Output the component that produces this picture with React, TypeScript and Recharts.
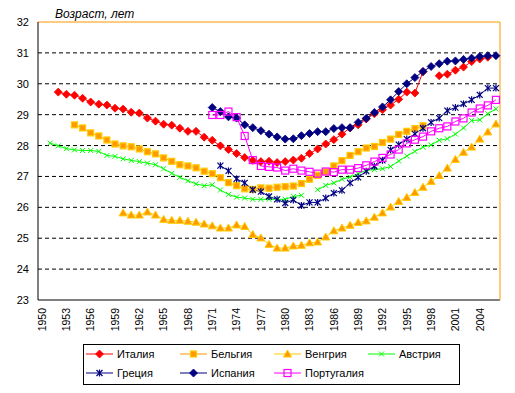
import React from 'react';
import { LineChart, Line, XAxis, YAxis, CartesianGrid, ReferenceLine } from 'recharts';

const years = [
  1950, 1951, 1952, 1953, 1954, 1955, 1956, 1957, 1958, 1959,
  1960, 1961, 1962, 1963, 1964, 1965, 1966, 1967, 1968, 1969,
  1970, 1971, 1972, 1973, 1974, 1975, 1976, 1977, 1978, 1979,
  1980, 1981, 1982, 1983, 1984, 1985, 1986, 1987, 1988, 1989,
  1990, 1991, 1992, 1993, 1994, 1995, 1996, 1997, 1998, 1999,
  2000, 2001, 2002, 2003, 2004, 2005, 2006,
];

const italyStart = 1952;
const italy = [
  29.73, 29.66, 29.63, 29.53, 29.41, 29.34, 29.31, 29.21, 29.18, 29.08,
  29.05, 28.89, 28.79, 28.69, 28.66, 28.56, 28.46, 28.46, 28.27, 28.17,
  27.99, 27.87, 27.74, 27.61, 27.52, 27.48, 27.49, 27.45, 27.48, 27.53,
  27.59, 27.74, 27.89, 28.05, 28.19, 28.37, 28.57, 28.67, 28.86, 29.03,
  29.16, 29.31, 29.50, 29.73, 29.70, 30.39, null, 30.26, 30.31, 30.44,
  30.54, 30.72, 30.80, 30.86,
];

const belgiumStart = 1954;
const belgium = [
  28.67, 28.57, 28.41, 28.31, 28.18, 28.05, 27.99, 27.96, 27.89, 27.80,
  27.73, 27.60, 27.49, 27.38, 27.34, 27.28, 27.17, 27.09, 26.96, 26.80,
  26.70, 26.60, 26.58, 26.63, 26.62, 26.65, 26.67, 26.69, 26.77, 26.91,
  27.04, 27.15, 27.34, 27.51, 27.68, 27.80, 27.92, 27.97, 28.10, 28.21,
  28.36, 28.46, 28.55, 28.64,
];

const hungaryStart = 1960;
const hungary = [
  25.82, 25.75, 25.75, 25.85, 25.75, 25.61, 25.58, 25.58, 25.55, 25.52,
  25.46, 25.40, 25.33, 25.33, 25.43, 25.38, 25.12, 25.01, 24.80, 24.68,
  24.68, 24.75, 24.77, 24.85, 24.88, 25.04, 25.24, 25.33, 25.42, 25.51,
  25.56, 25.68, 25.82, 26.01, 26.19, 26.32, 26.48, 26.65, 26.84, 27.03,
  27.27, 27.55, 27.78, 27.95, 28.21, 28.44, 28.70,
];

const austriaStart = 1951;
const austria = [
  28.08, 27.99, 27.90, 27.86, 27.84, 27.84, 27.81, 27.68, 27.65,
  27.57, 27.52, 27.48, 27.43, 27.38, 27.25, 27.10, 26.97, 26.86, 26.76,
  26.70, 26.73, 26.56, 26.42, 26.33, 26.30, 26.26, 26.26, 26.26, 26.26,
  26.26, 26.35, 26.39, null, 26.57, 26.71, 26.79, 26.91, 26.98, 27.09,
  27.20, 27.22, 27.25, 27.32, 27.50, 27.66, 27.81, 27.95, 28.02, 28.17,
  28.22, 28.37, 28.57, 28.81, 28.83, 29.03, 29.19,
];

const greeceStart = 1972;
const greece = [
  27.35, 27.18, 26.92, 26.79, 26.57, 26.51, 26.35, 26.26,
  26.14, 26.24, 26.06, 26.16, 26.16, 26.30, 26.46, 26.55, 26.79, 26.97,
  27.17, 27.33, 27.52, 27.86, 28.03, 28.21, 28.38, 28.56, 28.75, 28.89,
  29.13, 29.23, 29.35, 29.48, 29.64, 29.86, 29.86,
];

const spainStart = 1971;
const spain = [
  29.23, 29.10, 28.93, 28.89, 28.67, 28.58, 28.48, 28.37, 28.28,
  28.21, 28.22, 28.32, 28.39, 28.45, 28.45, 28.55, 28.58, 28.58, 28.75,
  28.88, 29.07, 29.25, 29.48, 29.75, 30.00, 30.20, 30.40, 30.56, 30.65,
  30.73, 30.74, 30.79, 30.83, 30.88, 30.91, 30.91,
];

const portugalStart = 1971;
const portugal = [
  28.99, 28.99, 29.10, 28.92, 28.31, 27.53, 27.34, 27.31, 27.29,
  27.19, 27.25, 27.19, 27.15, 27.09, 27.16, 27.14, 27.22, 27.22, 27.27,
  27.36, 27.48, 27.60, 27.71, 27.87, 28.07, 28.19, 28.29, 28.46, 28.56,
  28.62, 28.78, 28.88, 29.07, 29.20, 29.30, 29.48,
];

const yTicks = [23, 24, 25, 26, 27, 28, 29, 30, 31, 32];
const gridValues = [24, 25, 26, 27, 28, 29, 30, 31];

const names = ['Италия', 'Бельгия', 'Венгрия', 'Австрия', 'Греция', 'Испания', 'Португалия'];

const pick = (start: number, arr: (number | null)[], y: number) => {
  const i = y - start;
  if (i < 0 || i >= arr.length) return null;
  return arr[i];
};

const data = years.map((y) => ({
  year: String(y),
  italy: pick(italyStart, italy, y),
  belgium: pick(belgiumStart, belgium, y),
  hungary: pick(hungaryStart, hungary, y),
  austria: pick(austriaStart, austria, y),
  greece: pick(greeceStart, greece, y),
  spain: pick(spainStart, spain, y),
  portugal: pick(portugalStart, portugal, y),
}));

type Shape = 'diamond' | 'square' | 'triangle' | 'x' | 'star' | 'hollow';

const Marker = ({ shape, cx, cy, color, fill, stroke }: any) => {
  switch (shape) {
    case 'diamond':
      return <polygon points={`${cx},${cy - 4} ${cx + 4},${cy} ${cx},${cy + 4} ${cx - 4},${cy}`} fill={color} stroke={color} strokeWidth={0.8} />;
    case 'square':
      return <rect x={cx - 3} y={cy - 3} width={6} height={6} fill={fill} stroke={stroke} strokeWidth={1.2} />;
    case 'triangle':
      return <polygon points={`${cx},${cy - 4} ${cx + 4},${cy + 3} ${cx - 4},${cy + 3}`} fill={fill} stroke={stroke} strokeWidth={1} />;
    case 'x':
      return (
        <g stroke={color} strokeWidth={1}>
          <line x1={cx - 2.5} y1={cy - 2.5} x2={cx + 2.5} y2={cy + 2.5} />
          <line x1={cx - 2.5} y1={cy + 2.5} x2={cx + 2.5} y2={cy - 2.5} />
        </g>
      );
    case 'star':
      return (
        <g stroke={color} strokeWidth={1.2}>
          <line x1={cx - 3} y1={cy - 3} x2={cx + 3} y2={cy + 3} />
          <line x1={cx - 3} y1={cy + 3} x2={cx + 3} y2={cy - 3} />
          <line x1={cx} y1={cy - 3.5} x2={cx} y2={cy + 3.5} />
        </g>
      );
    case 'hollow':
      return <rect x={cx - 3.5} y={cy - 3.5} width={7} height={7} fill="none" stroke={color} strokeWidth={1.2} />;
    default:
      return null;
  }
};

const makeDot = (shape: Shape, color: string, fill?: string, stroke?: string) => (props: any) => {
  const { cx, cy, value, index } = props;
  if (cx == null || cy == null || value == null || (Array.isArray(value) && value[1] == null)) {
    return <g key={`e-${index}`} />;
  }
  return (
    <g key={`d-${index}`}>
      <Marker shape={shape} cx={cx} cy={cy} color={color} fill={fill} stroke={stroke} />
    </g>
  );
};

const series = [
  { key: 'italy', color: '#FF0000', shape: 'diamond' as Shape },
  { key: 'belgium', color: '#FF9900', shape: 'square' as Shape, fill: '#FF9900', stroke: '#FFCC00' },
  { key: 'hungary', color: '#FFCC00', shape: 'triangle' as Shape, fill: '#FF9900', stroke: '#FFCC00' },
  { key: 'austria', color: '#00FF00', shape: 'x' as Shape },
  { key: 'greece', color: '#000080', shape: 'star' as Shape },
  { key: 'spain', color: '#000080', shape: 'diamond' as Shape },
  { key: 'portugal', color: '#FF00FF', shape: 'hollow' as Shape },
];

const font = '"Liberation Sans", Arial, sans-serif';

const XTick = (props: any) => {
  const { x, y, payload } = props;
  return (
    <text
      x={x}
      y={y}
      transform={`rotate(-90, ${x}, ${y})`}
      textAnchor="end"
      dy="0.36em"
      fontSize={10.5}
      fontFamily={font}
      fill="#000"
    >
      {payload.value}
    </text>
  );
};

const YTick = (props: any) => {
  const { y, payload } = props;
  return (
    <text x={29} y={y} dy="0.36em" textAnchor="end" fontSize={11} fontFamily={font} fill="#000">
      {payload.value}
    </text>
  );
};

const legendCols = [86, 180, 274, 368];
const legendRows = [354, 373];

export default function App() {
  return (
    <div style={{ position: 'absolute', left: 0, top: 0, width: 515, height: 393, background: '#fff' }}>
      <LineChart
        width={515}
        height={393}
        data={data}
        margin={{ top: 22, right: 14, left: 0, bottom: 0 }}
      >
        <CartesianGrid
          vertical={false}
          horizontalValues={gridValues}
          stroke="#000"
          strokeDasharray="4 3"
        />
        <XAxis
          dataKey="year"
          scale="band"
          interval={2}
          height={93}
          tickLine={false}
          axisLine={{ stroke: '#000' }}
          tick={<XTick />}
          tickSize={6}
          tickMargin={2}
        />
        <YAxis
          domain={[23, 32]}
          ticks={yTicks}
          width={38}
          tickLine={false}
          axisLine={{ stroke: '#000' }}
          tick={<YTick />}
          interval={0}
        />
        <YAxis
          yAxisId="right"
          orientation="right"
          domain={[23, 32]}
          width={1}
          tick={false}
          tickLine={false}
          axisLine={{ stroke: '#FF9900' }}
        />
        <ReferenceLine y={32} stroke="#FF9900" />
        {series.map((s) => (
          <Line
            key={s.key}
            dataKey={s.key}
            stroke={s.color}
            strokeWidth={1}
            isAnimationActive={false}
            connectNulls={false}
            dot={makeDot(s.shape, s.color, s.fill, s.stroke)}
            activeDot={false}
          />
        ))}
      </LineChart>
      <svg
        width={515}
        height={393}
        style={{ position: 'absolute', left: 0, top: 0, pointerEvents: 'none' }}
      >
        <text x={55} y={18} fontSize={12} fontStyle="italic" fontFamily={font} fill="#000">
          Возраст, лет
        </text>
        <rect x={83.5} y={344.5} width={376} height={40} fill="#fff" stroke="#000" strokeWidth={1} />
        {series.map((s, i) => {
          const col = legendCols[i % 4];
          const row = legendRows[Math.floor(i / 4)];
          return (
            <g key={s.key}>
              <line x1={col} y1={row} x2={col + 27} y2={row} stroke={s.color} strokeWidth={1} />
              <Marker shape={s.shape} cx={col + 13.5} cy={row} color={s.color} fill={s.fill} stroke={s.stroke} />
              <text x={col + 31} y={row} dy="0.36em" fontSize={11} fontFamily={font} fill="#000">
                {names[i]}
              </text>
            </g>
          );
        })}
      </svg>
    </div>
  );
}
